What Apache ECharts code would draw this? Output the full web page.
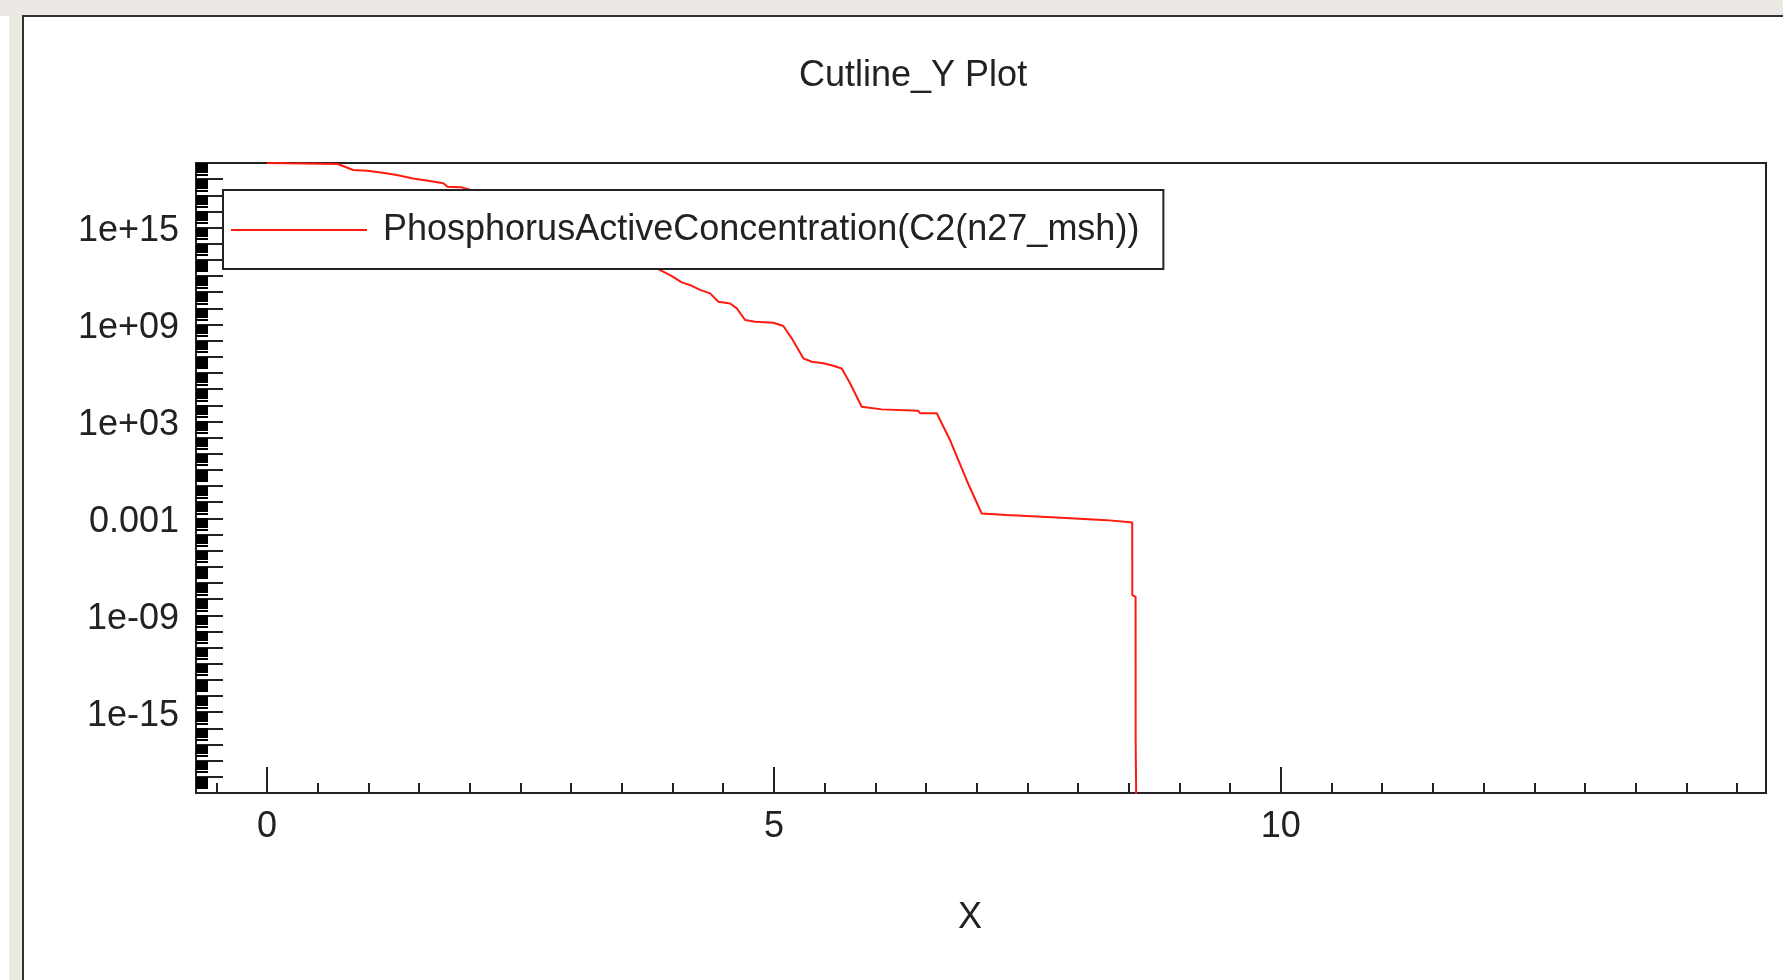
<!DOCTYPE html>
<html>
<head>
<meta charset="utf-8">
<script src="https://cdn.jsdelivr.net/npm/echarts@6/dist/echarts.min.js"></script>
<style>
  html, body { margin: 0; padding: 0; background: #ece9e4; }
  #chart { width: 1783px; height: 980px; }
</style>
</head>
<body>
<div id="chart"></div>
<script>
// ---- data ----
const titleText = 'Cutline_Y Plot';
const seriesName = 'PhosphorusActiveConcentration(C2(n27_msh))';
const xAxisName = 'X';

const xValues = [
  0.000, 0.200, 0.700, 0.850, 0.990, 1.140, 1.280, 1.440, 1.590, 1.740, 1.780, 1.910,
  2.200, 2.550, 2.900, 3.250, 3.600,
  3.894, 3.993, 4.091, 4.190, 4.272, 4.371, 4.452, 4.568, 4.634, 4.716, 4.814, 4.995,
  5.093, 5.176, 5.290, 5.373, 5.488, 5.586, 5.669, 5.751, 5.866, 6.063, 6.424, 6.441,
  6.606, 6.737, 6.901, 7.049, 7.296, 7.789, 8.282, 8.534, 8.535, 8.567, 8.568, 8.587, 8.588
];
const concValues = [
  1.0e19, 9.5e18, 8.7e18, 3.7e18, 3.3e18, 2.5e18, 1.8e18, 1.1e18, 7.9e17, 5.5e17, 3.4e17, 3.2e17,
  1.0e17, 1.6e16, 2.0e15, 2.0e14, 1.6e13,
  2.1e12, 1.0e12, 4.1e11, 2.5e11, 1.4e11, 8.5e10, 2.6e10, 2.0e10, 1.0e10, 1.9e9, 1.5e9, 1.3e9,
  8.1e8, 1.4e8, 8.1e6, 5.0e6, 4.0e6, 2.8e6, 1.9e6, 2.3e5, 8.1e3, 5.6e3, 4.6e3, 3.2e3,
  3.2e3, 71, 0.23, 2.0e-3, 1.6e-3, 1.15e-3, 7.8e-4, 5.6e-4, 1.8e-8, 1.4e-8, 1.5e-17, 1.2e-17, 1e-30
];

const xMajorTicks = [0, 5, 10];
const xMajorLabels = ['0', '5', '10'];
const xMinorTicks = [-0.5, 0.5, 1, 1.5, 2, 2.5, 3, 3.5, 4, 4.5, 5.5, 6, 6.5, 7, 7.5, 8, 8.5, 9, 9.5,
                     10.5, 11, 11.5, 12, 12.5, 13, 13.5, 14, 14.5];
const yLabelValues = [1e15, 1e9, 1e3, 1e-3, 1e-9, 1e-15];
const yLabelTexts = ['1e+15', '1e+09', '1e+03', '0.001', '1e-09', '1e-15'];
const yMinExp = -20, yMaxExp = 19;
const xMin = -0.7, xMax = 14.785;

// ---- derived tick lists ----
const yDecadeTicks = [];
const yMantissaTicks = [];
for (let e = yMinExp; e <= yMaxExp; e++) {
  yDecadeTicks.push(Math.pow(10, e));
  if (e < yMaxExp) for (let m = 2; m <= 9; m++) yMantissaTicks.push(m * Math.pow(10, e));
}
const seriesData = xValues.map((x, i) => [x, concValues[i]]);

function yLabelFormatter(v) {
  const exp = Math.round(Math.log10(v));
  for (let i = 0; i < yLabelValues.length; i++) {
    if (Math.round(Math.log10(yLabelValues[i])) === exp) return yLabelTexts[i];
  }
  return '';
}

const FONT = '"Liberation Sans", Arial, sans-serif';
const INK = '#222';
const FS = 36;

const chart = echarts.init(document.getElementById('chart'), null, { renderer: 'canvas' });
chart.setOption({
  backgroundColor: '#ece9e4',
  animation: false,
  textStyle: { fontFamily: FONT },
  graphic: [
    { type: 'rect', z: -10, silent: true,
      shape: { x: 0, y: 16, width: 9, height: 1000 },
      style: { fill: '#ffffff' } },
    { type: 'rect', z: -10, silent: true,
      shape: { x: 23, y: 16, width: 1800, height: 1000 },
      style: { fill: '#ffffff', stroke: '#333', lineWidth: 2 } }
  ],
  title: {
    text: titleText,
    left: 794,
    top: 53,
    textStyle: { fontFamily: FONT, fontSize: FS, fontWeight: 'normal', color: INK }
  },
  legend: {
    left: 223,
    top: 190,
    orient: 'horizontal',
    selectedMode: false,
    itemWidth: 136,
    itemHeight: 14,
    padding: [22, 24, 21, 7],
    backgroundColor: '#ffffff',
    borderColor: INK,
    borderWidth: 2,
    itemStyle: { opacity: 0 },
    lineStyle: { color: '#ff1a10', width: 2 },
    textStyle: { fontFamily: FONT, fontSize: FS, color: INK, padding: [0, 0, 0, 11] },
    data: [seriesName]
  },
  grid: {
    left: 196, top: 163, right: 17, bottom: 187,
    show: true, borderColor: INK, borderWidth: 2, backgroundColor: '#ffffff'
  },
  xAxis: [
    {
      type: 'value', min: xMin, max: xMax, position: 'bottom',
      name: xAxisName, nameLocation: 'middle', nameGap: 107,
      nameTextStyle: { fontFamily: FONT, fontSize: FS, color: INK, padding: [0, 22, 0, 0] },
      splitLine: { show: false },
      axisLine: { show: true, onZero: false, lineStyle: { color: INK, width: 2 } },
      axisTick: { show: true, inside: true, length: 26, lineStyle: { color: INK, width: 2 },
                  customValues: xMajorTicks },
      axisLabel: { show: true, margin: 16, fontFamily: FONT, fontSize: FS, color: INK,
                   customValues: xMajorTicks,
                   formatter: v => xMajorLabels[xMajorTicks.indexOf(v)] ?? '' }
    },
    {
      type: 'value', min: xMin, max: xMax, position: 'bottom',
      splitLine: { show: false },
      axisLine: { show: false, onZero: false },
      axisTick: { show: true, inside: true, length: 10, lineStyle: { color: INK, width: 2 },
                  customValues: xMinorTicks },
      axisLabel: { show: false }
    }
  ],
  yAxis: [
    {
      type: 'log', logBase: 10, min: Math.pow(10, yMinExp), max: Math.pow(10, yMaxExp),
      position: 'left',
      splitLine: { show: false },
      axisLine: { show: true, onZero: false, lineStyle: { color: INK, width: 2 } },
      axisTick: { show: true, inside: true, length: 27, lineStyle: { color: INK, width: 2 },
                  customValues: yDecadeTicks },
      axisLabel: { show: true, margin: 17, fontFamily: FONT, fontSize: FS, color: INK,
                   verticalAlign: 'top', lineHeight: 7,
                   customValues: yLabelValues, formatter: yLabelFormatter }
    },
    {
      type: 'log', logBase: 10, min: Math.pow(10, yMinExp), max: Math.pow(10, yMaxExp),
      position: 'left',
      splitLine: { show: false },
      axisLine: { show: false, onZero: false },
      axisTick: { show: true, inside: true, length: 12, lineStyle: { color: '#000', width: 2 },
                  customValues: yMantissaTicks },
      axisLabel: { show: false }
    }
  ],
  series: [
    {
      name: seriesName,
      type: 'line',
      xAxisIndex: 0,
      yAxisIndex: 0,
      data: seriesData,
      symbol: 'none',
      showSymbol: false,
      clip: true,
      lineStyle: { color: '#ff1a10', width: 2 },
      itemStyle: { color: '#ff1a10' }
    }
  ]
});
</script>
</body>
</html>
